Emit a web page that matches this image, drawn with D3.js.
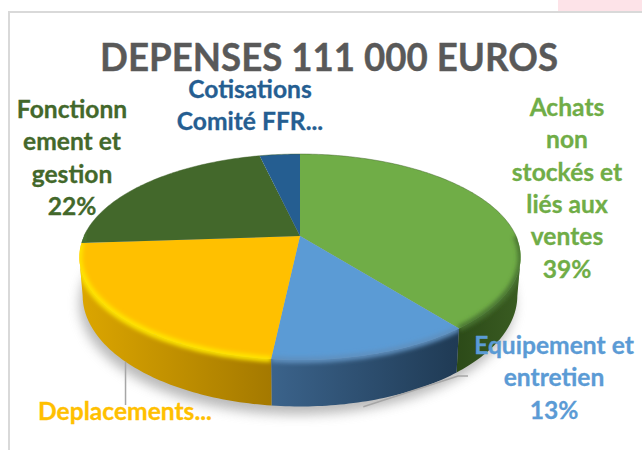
<!DOCTYPE html>
<html lang="fr">
<head>
<meta charset="utf-8">
<title>Depenses</title>
<script src="https://d3js.org/d3.v7.min.js"></script>
<style type="text/css">
  html, body { margin: 0; padding: 0; background: #fff; }
  svg { display: block; width: 642px; height: 450px; }
  text { font-family: Lato, "Open Sans", sans-serif; font-weight: bold; text-anchor: middle; }
  .title { font-size: 38px; fill: #595959; stroke: #595959; stroke-width: 0.4px; }
  .label { font-size: 24.6px; stroke-width: 0.3px; }
</style>
</head>
<body>
<svg></svg>
<script type="text/javascript">
// data
const categories = ["Achats non stockés et liés aux ventes", "Equipement et entretien", "Deplacements", "Fonctionnement et gestion", "Cotisations Comité FFR"];
const values = [39.4, 12.3, 22.2, 22.5, 3.6];
const colors = ["#70ad47", "#5b9bd5", "#ffc000", "#43682b", "#255e91"];
const wallLeft = ["#2c4a18", "#3b638b", "#dca600", "#2c4a18", "#1b4468"];
const wallRight = ["#3a5c22", "#1f3a54", "#a47900", "#2c4a18", "#1b4468"];
const rimColors = ["#4a7530", "#5f90bf", "#ffe600", "#4a7530", "#3f7ab0"];
const labelLines = [
  ["Achats", "non", "stockés et", "liés aux", "ventes", "39%"],
  ["Equipement et", "entretien", "13%"],
  ["Deplacements..."],
  ["Fonctionn", "ement et", "gestion", "22%"],
  ["Cotisations", "Comité FFR..."]
];
const labelX = [567, 554, 125, 72, 250];
const labelY = [116, 354, 420, 118, 98];

const svg = d3.select("svg");
const defs = svg.append("defs");

// pie seen in perspective: the front of the disc is closer, so it gets bigger
const cx = 300, cy = 236, R = 216, H = 98.7, persp = 0.204, depth = 37;

function project(a, bottom) {
  const u = Math.sin(a), v = -Math.cos(a);
  const w = 1 / (1 - persp * v);
  return bottom
    ? [cx + R * u * w * 0.985, cy + H * v * w + depth * w]
    : [cx + R * u * w, cy + H * v * w];
}

const line = d3.line();
const arcs = d3.pie().sort(null)(values);
const deg = Math.PI / 180;
const wallFrom = 102 * deg, wallTo = 258 * deg;

function samples(a0, a1) {
  const n = Math.max(2, Math.ceil((a1 - a0) / (1 * deg)));
  return d3.range(n + 1).map(i => a0 + (a1 - a0) * i / n);
}

function facePath(d) {
  return line([[cx, cy]].concat(samples(d.startAngle, d.endAngle).map(a => project(a)))) + "Z";
}

function wallPath(d) {
  const a0 = Math.max(d.startAngle, wallFrom), a1 = Math.min(d.endAngle, wallTo);
  if (a1 <= a0) return null;
  const s = samples(a0, a1);
  return line(s.map(a => project(a)).concat(s.slice().reverse().map(a => project(a, true)))) + "Z";
}

const blur = (id, sd) => defs.append("filter").attr("id", id)
  .attr("x", "-20%").attr("y", "-20%").attr("width", "140%").attr("height", "140%")
  .append("feGaussianBlur").attr("stdDeviation", sd);
blur("soft", 6);
blur("rim", 2.2);

arcs.forEach((d, i) => {
  const g = defs.append("linearGradient").attr("id", "wall" + i);
  g.append("stop").attr("offset", 0).attr("stop-color", wallLeft[i]);
  g.append("stop").attr("offset", 1).attr("stop-color", wallRight[i]);
});

// page furniture: frame and the pink corner of the slide behind
svg.append("rect").attr("x", 558).attr("y", 0).attr("width", 84).attr("height", 11).attr("fill", "#fde3e8");
svg.append("path").attr("d", "M9,450V12H642").attr("fill", "none").attr("stroke", "#d9d9d9").attr("stroke-width", 2);

// shadow on the floor
const ring = samples(0, 2 * Math.PI).map(a => project(a, true));
svg.append("path")
  .attr("d", line(ring) + "Z")
  .attr("transform", "translate(-3,8)")
  .attr("fill", "#8a8a8a")
  .attr("opacity", 0.6)
  .attr("filter", "url(#soft)");

// side wall
svg.append("g").selectAll("path").data(arcs).enter().append("path")
  .attr("d", wallPath)
  .attr("fill", (d, i) => "url(#wall" + i + ")");

// top face
svg.append("g").selectAll("path").data(arcs).enter().append("path")
  .attr("d", facePath)
  .attr("fill", (d, i) => colors[i]);

// soft bevel along the front edge of the disc, half on the face and half on the wall
arcs.forEach((d, i) => {
  const clip = defs.append("clipPath").attr("id", "slice" + i);
  clip.append("path").attr("d", facePath(d));
  if (wallPath(d)) clip.append("path").attr("d", wallPath(d));
  const a0 = Math.max(d.startAngle, 90 * deg), a1 = Math.min(d.endAngle, 272 * deg);
  if (a1 <= a0) return;
  svg.append("g").attr("clip-path", "url(#slice" + i + ")")
    .append("path")
    .attr("d", line(samples(a0, a1).map(a => project(a))))
    .attr("fill", "none")
    .attr("stroke", rimColors[i])
    .attr("stroke-width", 6)
    .attr("filter", "url(#rim)");
});

// thin dark line on the back of the disc
svg.append("path")
  .attr("d", line(samples(-90 * deg, 92 * deg).map(a => project(a))))
  .attr("fill", "none")
  .attr("stroke", "#3d5f28")
  .attr("stroke-opacity", 0.45)
  .attr("stroke-width", 1);

// leader lines from the wall to the labels
const leader = d3.line();
const yellowFoot = project(arcs[2].startAngle + (arcs[2].endAngle - arcs[2].startAngle) * 0.48, true);
svg.append("path")
  .attr("d", leader([yellowFoot, [yellowFoot[0], 405]]))
  .attr("fill", "none").attr("stroke", "#a6a6a6").attr("stroke-width", 1.5);
const blueFoot = project(arcs[1].startAngle + (arcs[1].endAngle - arcs[1].startAngle) * 0.55, true);
svg.append("path")
  .attr("d", leader([[blueFoot[0], blueFoot[1] + 5], [458, 376], [468, 376]]))
  .attr("fill", "none").attr("stroke", "#a6a6a6").attr("stroke-width", 1.5);

// title
svg.append("text").attr("class", "title").attr("x", 329).attr("y", 71)
  .attr("textLength", 458).attr("lengthAdjust", "spacingAndGlyphs")
  .text("DEPENSES 111 000 EUROS");

// labels
labelLines.forEach((lines, i) => {
  const t = svg.append("text").attr("class", "label").attr("fill", colors[i]).attr("stroke", colors[i]);
  lines.forEach((s, j) => {
    t.append("tspan").attr("x", labelX[i]).attr("y", labelY[i] + j * 32.3).text(s);
  });
});
</script>
</body>
</html>
